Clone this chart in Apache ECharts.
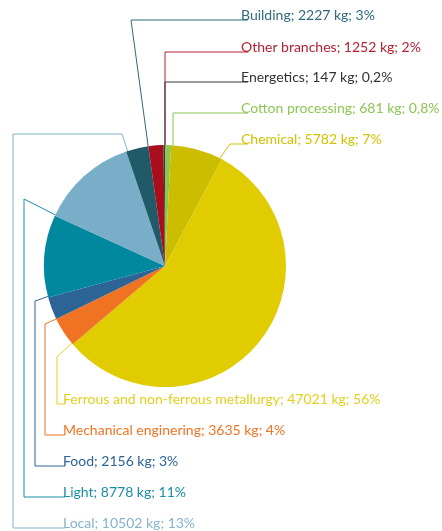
<!DOCTYPE html>
<html>
<head>
<meta charset="utf-8">
<script src="https://cdn.jsdelivr.net/npm/echarts@6/dist/echarts.min.js"></script>
<style>
  html, body { margin: 0; padding: 0; background: #fff; }
  #chart { width: 442px; height: 531px; }
</style>
</head>
<body>
<div id="chart"></div>
<script>
// data, clockwise from 12 o'clock
const names = ['Cotton processing', 'Chemical', 'Ferrous and non-ferrous metallurgy', 'Mechanical enginering',
    'Food', 'Light', 'Local', 'Building', 'Other branches', 'Energetics'];
const kilos = [681, 5782, 47021, 3635, 2156, 8778, 10502, 2227, 1252, 147];
// slices are drawn from the rounded shares printed in the labels
const shares = [0.8, 7, 56, 4, 3, 11, 13, 3, 2, 0.2];

const sliceColors = ['#8dc653', '#cbbd00', '#e0cc00', '#f07324', '#2c6496', '#00889e', '#78aec8', '#205a68', '#a80e1b', '#3a3a3a'];
const textColors = ['#8dc653', '#d2c300', '#e2cf1f', '#f07324', '#2c6496', '#1a8ea3', '#86b3cc', '#2e6a7c', '#b42030', '#333333'];

// label layout: where the leader leaves the pie (deg clockwise from top), its bends, and the text baseline
const cx = 165, cy = 266, r = 121;
const guides = [
    { ang: 3.8, bends: [[173, 113]], x: 241, y: 113, end: 248 },
    { ang: 27, bends: [[230, 144]], x: 241, y: 144, end: 248 },
    { ang: 230.4, bends: [[57, 357], [57, 404]], x: 63, y: 404, end: 65 },
    { ang: 244, bends: [[45, 324], [45, 435]], x: 63, y: 435, end: 65 },
    { ang: 255.4, bends: [[35, 301], [35, 466]], x: 63, y: 466, end: 65 },
    { ang: 295, bends: [[24, 199], [24, 497]], x: 63, y: 497, end: 65 },
    { ang: 342, bends: [[122, 134], [13, 134], [13, 528]], x: 63, y: 528, end: 65 },
    { ang: 352, bends: [[131, 20]], x: 241, y: 20, end: 248 },
    { ang: 0, bends: [[165, 52]], x: 241, y: 52, end: 248 },
    { ang: 0, bends: [[165, 82]], x: 241, y: 82, end: 248 }
];

const chart = echarts.init(document.getElementById('chart'));

chart.setOption({
    animation: false,
    series: [{
        type: 'pie',
        center: [cx, cy],
        radius: r,
        startAngle: 90,
        clockwise: true,
        avoidLabelOverlap: false,
        itemStyle: { borderWidth: 0 },
        emphasis: { disabled: true },
        label: {
            show: true,
            fontFamily: 'Lato',
            fontSize: 14,
            padding: 0,
            formatter: p => names[p.dataIndex] + '; ' + kilos[p.dataIndex] + ' kg; ' +
                String(shares[p.dataIndex]).replace('.', ',') + '%'
        },
        labelLine: { show: true, lineStyle: { width: 1 } },
        labelLayout: function (params) {
            const g = guides[params.dataIndex];
            const a = g.ang * Math.PI / 180;
            const start = [cx + r * Math.sin(a), cy - r * Math.cos(a)];
            return {
                x: g.x,
                y: g.y - 4.5,
                align: 'left',
                verticalAlign: 'middle',
                labelLinePoints: [start].concat(g.bends, [[g.end, g.y]])
            };
        },
        data: names.map((n, i) => ({
            name: n,
            value: shares[i],
            itemStyle: { color: sliceColors[i] },
            label: { color: textColors[i] },
            labelLine: { lineStyle: { color: textColors[i] } }
        }))
    }]
});
</script>
</body>
</html>
